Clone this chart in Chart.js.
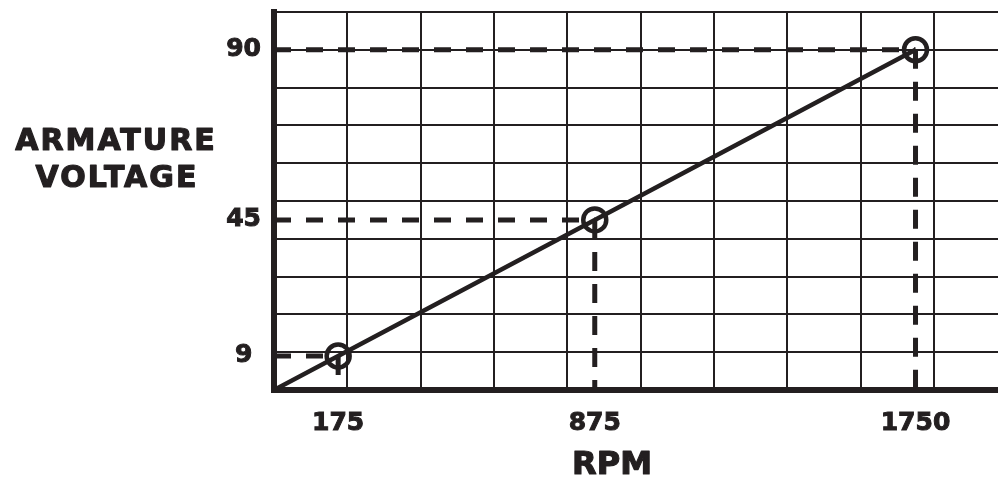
<!DOCTYPE html>
<html>
<head>
<meta charset="utf-8">
<script src="https://cdn.jsdelivr.net/npm/chart.js@4"></script>
<style>
  html, body { margin: 0; padding: 0; background: #ffffff; }
  #wrap { width: 998px; height: 477px; position: relative; }
</style>
</head>
<body>
<div id="wrap"><canvas id="chart"></canvas></div>
<script>
// Armature voltage vs. motor speed
const ink = '#231f20';

// marked operating points
const rpmPoints = [175, 875, 1750];
const voltPoints = [9, 45, 90];

// the straight characteristic starts at the origin
const lineRpm = [0, 175, 875, 1750];
const lineVolts = [0, 9, 45, 90];

// grid and labelled ticks
const xGrid = [0, 200, 400, 600, 800, 1000, 1200, 1400, 1600, 1800];
const yGrid = [0, 10, 20, 30, 40, 50, 60, 70, 80, 90, 100];
const xTickLabels = [175, 875, 1750];
const yTickLabels = [9, 45, 90];

const tickFont = { family: "'DejaVu Sans', sans-serif", weight: 'bold', size: 25 };

function mergeTicks(grid, labels) {
  const all = Array.from(new Set([...grid, ...labels])).sort((a, b) => a - b);
  return all.map(v => ({ value: v }));
}

// dashed guide lines from each point to the axes
const guideSets = [];
rpmPoints.forEach((r, i) => {
  const v = voltPoints[i];
  guideSets.push({
    data: [{ x: 0, y: v }, { x: r, y: v }],
    borderColor: ink, borderWidth: 5, borderDash: [17, 15],
    pointRadius: 0, showLine: true
  });
  guideSets.push({
    data: [{ x: r, y: v }, { x: r, y: 0 }],
    borderColor: ink, borderWidth: 5, borderDash: [19, 13],
    pointRadius: 0, showLine: true
  });
});

const titles = {
  id: 'titles',
  afterDraw(chart) {
    const ctx = chart.ctx;
    const area = chart.chartArea;
    ctx.save();
    ctx.fillStyle = ink;
    ctx.strokeStyle = ink;
    ctx.lineWidth = 1.2;
    ctx.lineJoin = 'round';
    ctx.textAlign = 'center';
    ctx.textBaseline = 'alphabetic';
    ctx.font = "bold 30px 'DejaVu Sans', sans-serif";
    if ('letterSpacing' in ctx) ctx.letterSpacing = '2px';
    [['ARMATURE', area.left - 158, 150], ['VOLTAGE', area.left - 157, 186.5]].forEach(t => {
      ctx.fillText(t[0], t[1], t[2]);
      ctx.strokeText(t[0], t[1], t[2]);
    });
    if ('letterSpacing' in ctx) ctx.letterSpacing = '0px';
    ctx.font = "bold 32px 'DejaVu Sans', sans-serif";
    ctx.fillText('RPM', area.left + 338, 473.5);
    ctx.strokeText('RPM', area.left + 338, 473.5);
    ctx.restore();
  }
};

new Chart(document.getElementById('chart'), {
  type: 'scatter',
  data: {
    datasets: [
      {
        data: lineRpm.map((x, i) => ({ x: x, y: lineVolts[i] })),
        showLine: true,
        borderColor: ink,
        borderWidth: 4.5,
        pointRadius: ctx => (ctx.dataIndex === 0 ? 0 : 11.5),
        pointHoverRadius: ctx => (ctx.dataIndex === 0 ? 0 : 11.5),
        pointBorderWidth: 4.5,
        pointHoverBorderWidth: 4.5,
        pointBorderColor: ink,
        pointBackgroundColor: 'rgba(0,0,0,0)'
      },
      ...guideSets
    ]
  },
  options: {
    responsive: true,
    maintainAspectRatio: false,
    animation: false,
    events: [],
    layout: { autoPadding: false, padding: { top: 12, right: 0, bottom: 0, left: 0 } },
    plugins: {
      legend: { display: false },
      tooltip: { enabled: false }
    },
    scales: {
      x: {
        type: 'linear',
        min: 0,
        max: 1975,
        afterBuildTicks: scale => { scale.ticks = mergeTicks(xGrid, xTickLabels); },
        afterFit: scale => {
          scale.height = 87;
          scale.paddingLeft = 0;
          scale.paddingRight = 0;
        },
        grid: {
          drawTicks: false,
          lineWidth: 2,
          color: ctx => (ctx.tick && xTickLabels.includes(ctx.tick.value) ? 'rgba(0,0,0,0)' : ink)
        },
        border: { display: true, width: 6, color: ink },
        ticks: {
          autoSkip: false,
          maxRotation: 0,
          padding: 18,
          color: ink,
          font: tickFont,
          textStrokeColor: ink,
          textStrokeWidth: 1,
          callback: v => (xTickLabels.includes(v) ? String(v) : '')
        }
      },
      y: {
        type: 'linear',
        min: 0,
        max: 100,
        afterBuildTicks: scale => { scale.ticks = mergeTicks(yGrid, yTickLabels); },
        afterFit: scale => {
          scale.width = 274;
          scale.paddingTop = 0;
          scale.paddingBottom = 0;
        },
        grid: {
          drawTicks: false,
          lineWidth: 2,
          color: ctx => (ctx.tick && (ctx.tick.value === 9 || ctx.tick.value === 45) ? 'rgba(0,0,0,0)' : ink)
        },
        border: { display: true, width: 6, color: ink },
        ticks: {
          autoSkip: false,
          crossAlign: 'center',
          padding: 13,
          color: ink,
          font: tickFont,
          textStrokeColor: ink,
          textStrokeWidth: 1,
          callback: v => (yTickLabels.includes(v) ? String(v) : '')
        }
      }
    }
  },
  plugins: [titles]
});
</script>
</body>
</html>
